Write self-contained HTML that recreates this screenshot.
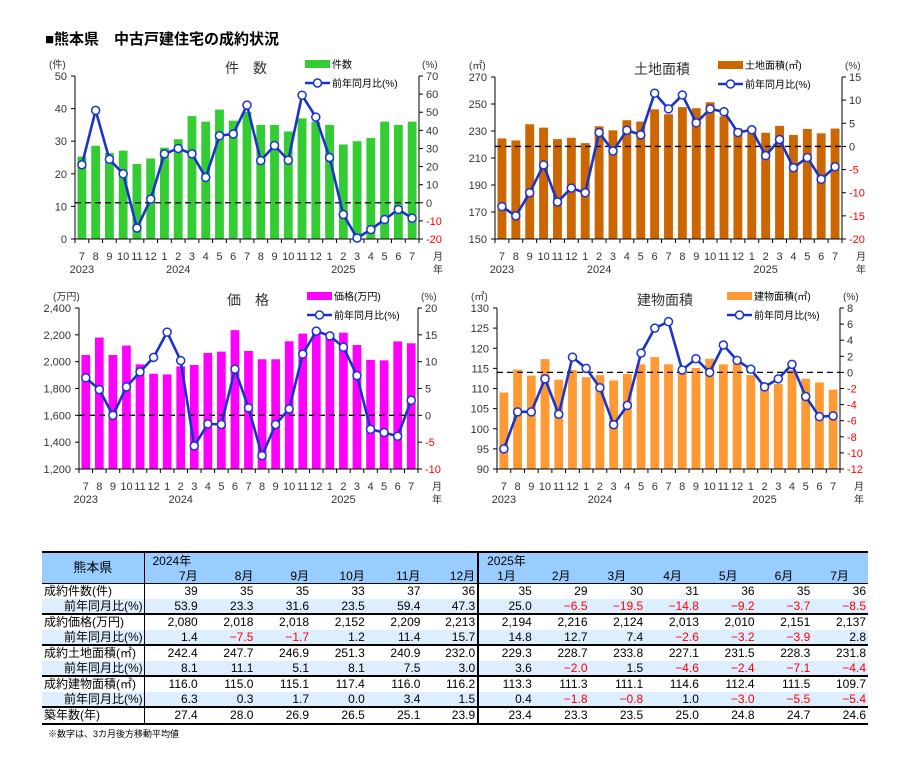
<!DOCTYPE html>
<html><head><meta charset="utf-8">
<style>
body{margin:0;background:#fff;font-family:"Liberation Sans","Noto Sans CJK JP",sans-serif;}
#wrap{position:relative;width:904px;height:766px;overflow:hidden;}
#title{position:absolute;left:45px;top:28px;font-size:15px;font-weight:bold;color:#000;}
svg{position:absolute;left:0;top:0;}
table{position:absolute;left:42px;top:551px;border-collapse:collapse;font-size:12px;color:#000;table-layout:fixed;width:826px;}
td{height:14.5px;line-height:14px;padding:0 2px 0 0;text-align:right;white-space:nowrap;overflow:hidden;}
td.l{text-align:left;padding-left:2px;border-right:1px solid #000;}
td.l2{padding-left:22px;}
tr.hd td{background:#99ccff;height:15px;}
tr.alt td{background:#ddeeff;}
tr.g td{border-top:2px solid #000;}
.r{color:#ff0000;}
.sep{border-right:2px solid #000;}
</style></head><body>
<div id="wrap">
<div id="title">■熊本県　中古戸建住宅の成約状況</div>
<svg id="svg" width="904" height="766"></svg>
<table style="border-top:2px solid #000;border-bottom:2px solid #000;">
<colgroup><col style="width:102px"><col span="13" style="width:55.7px"></colgroup>
<tr class="hd"><td class="l" rowspan="2" style="text-align:center;font-size:13px;border-bottom:1px solid #000;">熊本県</td><td style="text-align:left;padding-left:8px;overflow:visible">2024年</td><td></td><td></td><td></td><td></td><td class="sep"></td><td style="text-align:left;padding-left:8px;overflow:visible">2025年</td><td></td><td></td><td></td><td></td><td></td><td></td></tr>
<tr class="hd"><td style="border-bottom:1px solid #000">7月</td><td style="border-bottom:1px solid #000">8月</td><td style="border-bottom:1px solid #000">9月</td><td style="border-bottom:1px solid #000">10月</td><td style="border-bottom:1px solid #000">11月</td><td class="sep" style="border-bottom:1px solid #000">12月</td><td style="border-bottom:1px solid #000;text-align:left;padding-left:18px">1月</td><td style="border-bottom:1px solid #000;text-align:left;padding-left:18px">2月</td><td style="border-bottom:1px solid #000;text-align:left;padding-left:18px">3月</td><td style="border-bottom:1px solid #000;text-align:left;padding-left:18px">4月</td><td style="border-bottom:1px solid #000;text-align:left;padding-left:18px">5月</td><td style="border-bottom:1px solid #000;text-align:left;padding-left:18px">6月</td><td style="border-bottom:1px solid #000;text-align:left;padding-left:18px">7月</td></tr>
<tbody id="tb"></tbody>
</table>
</div>
<script>
const months=["7","8","9","10","11","12","1","2","3","4","5","6","7","8","9","10","11","12","1","2","3","4","5","6","7"];
const countVals=[25.3,28.6,26.4,27.1,23,24.7,28,30.6,37.7,36,39.7,36.3,39,35,35,33,37,36,35,29,30,31,36,35,36];
const countYoy=[21,51,24,16,-14,2,27,30,27,14,37,38,53.9,23.3,31.6,23.5,59.4,47.3,25.0,-6.5,-19.5,-14.8,-9.2,-3.7,-8.5];
const landVals=[224.5,223,235,232.5,224,225,221,233.5,230.5,238,237,246,242.4,247.7,246.9,251.3,240.9,232.0,229.3,228.7,233.8,227.1,231.5,228.3,231.8];
const landYoy=[-13,-15,-10,-4,-12,-9,-10,3,-1,3.5,2.5,11.5,8.1,11.1,5.1,8.1,7.5,3.0,3.6,-2.0,1.5,-4.6,-2.4,-7.1,-4.4];
const priceVals=[2050,2180,2050,2120,1980,1910,1905,1965,1975,2065,2075,2235,2080,2018,2018,2152,2209,2213,2194,2216,2124,2013,2010,2151,2137];
const priceYoy=[7,4.8,0,5.3,8.1,10.8,15.5,10.2,-5.7,-1.6,-1.7,8.6,1.4,-7.5,-1.7,1.2,11.4,15.7,14.8,12.7,7.4,-2.6,-3.2,-3.9,2.8];
const bldgVals=[109,114.7,113.2,117.3,112.2,114.6,112.8,113.3,112,113.6,116,117.8,116.0,115.0,115.1,117.4,116.0,116.2,113.3,111.3,111.1,114.6,112.4,111.5,109.7];
const bldgYoy=[-9.5,-4.9,-4.9,-0.8,-5.2,1.9,0.5,-1.9,-6.5,-4.1,2.4,5.5,6.3,0.3,1.7,0.0,3.4,1.5,0.4,-1.8,-0.8,1.0,-3.0,-5.5,-5.4];
const countTicks=[0,10,20,30,40,50];const countPct=[-20,-10,0,10,20,30,40,50,60,70];
const landTicks=[150,170,190,210,230,250,270];const landPct=[-20,-15,-10,-5,0,5,10,15];
const priceTicks=[1200,1400,1600,1800,2000,2200,2400];const pricePct=[-10,-5,0,5,10,15,20];
const bldgTicks=[90,95,100,105,110,115,120,125,130];const bldgPct=[-12,-10,-8,-6,-4,-2,0,2,4,6,8];

const NS="http://www.w3.org/2000/svg";const svg=document.getElementById('svg');
function mk(tag,at,txt,parent){const e=document.createElementNS(NS,tag);for(const k in at)e.setAttribute(k,at[k]);if(txt!==undefined)e.textContent=txt;(parent||svg).appendChild(e);return e;}
function fmt(v){return v>=1000?v.toLocaleString('en-US'):String(v);}
function chart(g,vals,yoy,ticks,pct,color,title,legend,unit){
  const G=mk('g',{});
  
  
  const n=months.length,slot=(g.x1-g.x0)/n;
  const lmin=ticks[0],lmax=ticks[ticks.length-1],rmin=pct[0],rmax=pct[pct.length-1];
  const yL=v=>g.yb-(v-lmin)/(lmax-lmin)*(g.yb-g.yt);
  const yR=v=>g.yb-(v-rmin)/(rmax-rmin)*(g.yb-g.yt);
  const xc=i=>g.x0+slot*(i+0.5);
  vals.forEach((v,i)=>{const b=mk('rect',{x:xc(i)-slot*0.32,y:yL(v),width:slot*0.64,height:g.yb-yL(v),fill:color},undefined,G);
    
    });
  mk('line',{x1:g.x0,x2:g.x1,y1:yR(0),y2:yR(0),stroke:'#000','stroke-width':1.3,'stroke-dasharray':'6,4'},undefined,G);
  mk('line',{x1:g.x0,x2:g.x0,y1:g.yt,y2:g.yb,stroke:'#000'},undefined,G);
  mk('line',{x1:g.x1,x2:g.x1,y1:g.yt,y2:g.yb,stroke:'#000'},undefined,G);
  mk('line',{x1:g.x0,x2:g.x1,y1:g.yb,y2:g.yb,stroke:'#000'},undefined,G);
  for(let i=0;i<=n;i++)mk('line',{x1:g.x0+slot*i,x2:g.x0+slot*i,y1:g.yb,y2:g.yb+4,stroke:'#000'},undefined,G);
  ticks.forEach(t=>{mk('line',{x1:g.x0-4,x2:g.x0,y1:yL(t),y2:yL(t),stroke:'#000'},undefined,G);
    mk('text',{x:g.x0-8,y:yL(t)+4,'text-anchor':'end','font-size':11,fill:'#333'},fmt(t),G);});
  pct.forEach(t=>{mk('line',{x1:g.x1,x2:g.x1+4,y1:yR(t),y2:yR(t),stroke:'#000'},undefined,G);
    mk('text',{x:g.x1+7,y:yR(t)+4,'font-size':11,fill:t<0?'#ff0000':'#333'},String(t),G);});
  const pts=yoy.map((v,i)=>xc(i)+','+yR(v)).join(' ');
  const pl=mk('polyline',{points:pts,fill:'none',stroke:'#1a33cc','stroke-width':2.6},undefined,G);
  
  
  yoy.forEach((v,i)=>{const c=mk('circle',{cx:xc(i),cy:yR(v),r:4,fill:'#fff',stroke:'#1a33cc','stroke-width':1.5},undefined,G);
    
    });
  months.forEach((m,i)=>mk('text',{x:xc(i),y:g.yb+21,'text-anchor':'middle','font-size':11,fill:'#333'},m,G));
  mk('text',{x:xc(0),y:g.yb+34,'text-anchor':'middle','font-size':11,fill:'#333'},'2023',G);
  mk('text',{x:xc(7),y:g.yb+34,'text-anchor':'middle','font-size':11,fill:'#333'},'2024',G);
  mk('text',{x:xc(19),y:g.yb+34,'text-anchor':'middle','font-size':11,fill:'#333'},'2025',G);
  mk('text',{x:g.x1+14,y:g.yb+21,'font-size':10,fill:'#333'},'月',G);
  mk('text',{x:g.x1+14,y:g.yb+34,'font-size':10,fill:'#333'},'年',G);
  mk('text',{x:g.x0-26,y:g.yt-8,'font-size':10,fill:'#333'},unit,G);
  mk('text',{x:g.x1+3,y:g.yt-8,'font-size':10,fill:'#333'},'(%)',G);
  mk('text',{x:g.tx,y:g.yt-3,'text-anchor':'middle','font-size':14,fill:'#333'},title,G);
  mk('rect',{x:g.lx,y:g.yt-16,width:25,height:8,fill:color},undefined,G);
  mk('text',{x:g.lx+27,y:g.yt-8,'font-size':10,fill:'#000'},legend,G);
  mk('line',{x1:g.lx,x2:g.lx+25,y1:g.yt+7,y2:g.yt+7,stroke:'#1a33cc','stroke-width':2.6},undefined,G);
  mk('circle',{cx:g.lx+12.5,cy:g.yt+7,r:4,fill:'#fff',stroke:'#1a33cc','stroke-width':1.5},undefined,G);
  mk('text',{x:g.lx+27,y:g.yt+11,'font-size':10,fill:'#000'},'前年同月比(%)',G);
}
chart({name:'count-chart',x0:75,x1:419,yt:76,yb:239,tx:246,lx:305},countVals,countYoy,countTicks,countPct,'#33cc33','件　数','件数','(件)');
chart({name:'land-area-chart',x0:495,x1:842,yt:77,yb:239,tx:662,lx:718},landVals,landYoy,landTicks,landPct,'#cc6600','土地面積','土地面積(㎡)','(㎡)');
chart({name:'price-chart',x0:79,x1:418,yt:308,yb:469,tx:248,lx:307},priceVals,priceYoy,priceTicks,pricePct,'#ff00ff','価　格','価格(万円)','(万円)');
chart({name:'building-area-chart',x0:497,x1:840,yt:308,yb:469,tx:665,lx:727},bldgVals,bldgYoy,bldgTicks,bldgPct,'#ff9933','建物面積','建物面積(㎡)','(㎡)');

const rows=[
 ['成約件数(件)',['39','35','35','33','37','36','35','29','30','31','36','35','36'],1],
 ['前年同月比(%)',['53.9','23.3','31.6','23.5','59.4','47.3','25.0','-6.5','-19.5','-14.8','-9.2','-3.7','-8.5'],0],
 ['成約価格(万円)',['2,080','2,018','2,018','2,152','2,209','2,213','2,194','2,216','2,124','2,013','2,010','2,151','2,137'],1],
 ['前年同月比(%)',['1.4','-7.5','-1.7','1.2','11.4','15.7','14.8','12.7','7.4','-2.6','-3.2','-3.9','2.8'],0],
 ['成約土地面積(㎡)',['242.4','247.7','246.9','251.3','240.9','232.0','229.3','228.7','233.8','227.1','231.5','228.3','231.8'],1],
 ['前年同月比(%)',['8.1','11.1','5.1','8.1','7.5','3.0','3.6','-2.0','1.5','-4.6','-2.4','-7.1','-4.4'],0],
 ['成約建物面積(㎡)',['116.0','115.0','115.1','117.4','116.0','116.2','113.3','111.3','111.1','114.6','112.4','111.5','109.7'],1],
 ['前年同月比(%)',['6.3','0.3','1.7','0.0','3.4','1.5','0.4','-1.8','-0.8','1.0','-3.0','-5.5','-5.4'],0],
 ['築年数(年)',['27.4','28.0','26.9','26.5','25.1','23.9','23.4','23.3','23.5','25.0','24.8','24.7','24.6'],1]];
const tb=document.getElementById('tb');
rows.forEach((r,ri)=>{const tr=document.createElement('tr');
  
  
  if(r[2]&&ri>0)tr.className='g';if(!r[2])tr.className='alt';
  const th=document.createElement('td');th.className=r[2]?'l':'l l2';th.textContent=r[0];tr.appendChild(th);
  r[1].forEach((v,i)=>{const td=document.createElement('td');if(i===5)td.className='sep';
    if(v[0]==='-'){td.innerHTML='<span class="r">−'+v.slice(1)+'</span>';}else td.textContent=v;tr.appendChild(td);});
  tb.appendChild(tr);});
mk('text',{x:48,y:737,'font-size':9,fill:'#000'},'※数字は、3カ月後方移動平均値');
</script>
</body></html>
